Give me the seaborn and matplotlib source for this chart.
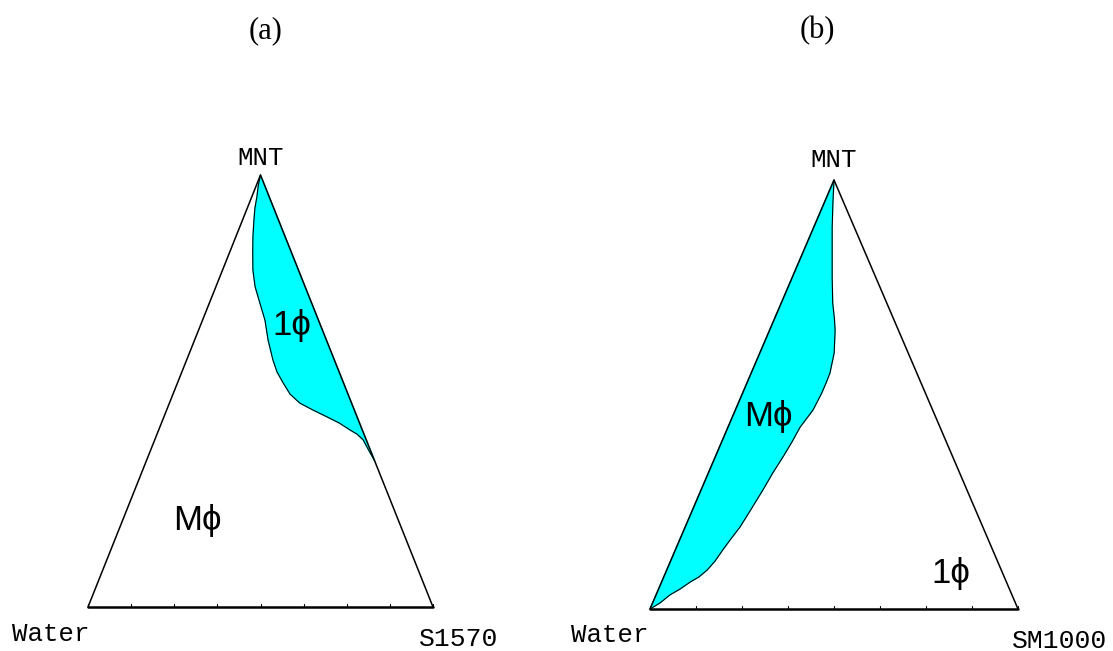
import numpy as np
import pandas as pd
import matplotlib
matplotlib.use("Agg")
import matplotlib.pyplot as plt
import seaborn as sns

# ---------------- data (ternary mass fractions) ----------------
# Panel (a): Water / S1570 / MNT ; boundary of the one-phase (1phi) region,
# from the S1570-MNT edge back up to the MNT corner
a_mnt  = [0.338, 0.363, 0.387, 0.400, 0.410, 0.426, 0.440, 0.456, 0.472, 0.493,
          0.519, 0.544, 0.572, 0.618, 0.664, 0.688, 0.741, 0.780, 0.819, 0.856,
          0.896, 0.924, 0.949, 0.975, 1.000]
a_poly = [0.662, 0.632, 0.604, 0.580, 0.554, 0.515, 0.473, 0.424, 0.378, 0.339,
          0.306, 0.276, 0.250, 0.213, 0.181, 0.160, 0.114, 0.088, 0.068, 0.050,
          0.033, 0.022, 0.015, 0.006, 0.000]

# Panel (b): Water / SM1000 / MNT ; boundary of the multi-phase (Mphi) region,
# from the Water corner up to the MNT corner
b_mnt  = [0.000, 0.014, 0.033, 0.047, 0.063, 0.075, 0.091, 0.112, 0.138, 0.163,
          0.191, 0.235, 0.277, 0.317, 0.354, 0.389, 0.424, 0.445, 0.464, 0.503,
          0.527, 0.550, 0.597, 0.650, 0.678, 0.713, 0.772, 0.830, 0.888, 0.946,
          1.000]
b_poly = [0.000, 0.020, 0.038, 0.059, 0.078, 0.096, 0.110, 0.121, 0.129, 0.138,
          0.149, 0.159, 0.168, 0.175, 0.184, 0.191, 0.196, 0.204, 0.211, 0.215,
          0.215, 0.214, 0.202, 0.178, 0.162, 0.140, 0.109, 0.080, 0.051, 0.024,
          0.000]

base_ticks = [0, 0.125, 0.25, 0.375, 0.5, 0.625, 0.75, 0.875, 1.0]

corner_labels_a = ["Water", "S1570", "MNT"]
corner_labels_b = ["Water", "SM1000", "MNT"]
panel_titles = ["(a)", "(b)"]
PHI = "\u03d5"


def tern(poly, mnt):
    poly = np.asarray(poly, float)
    mnt = np.asarray(mnt, float)
    return poly + 0.5 * mnt, mnt


sns.set_theme(style="white")
plt.rcParams["font.family"] = ["Liberation Sans", "DejaVu Sans"]
plt.rcParams["text.color"] = "black"

fig = plt.figure(figsize=(11.13, 6.51), dpi=100)
W, H = 1113.0, 651.0
ax_a = fig.add_axes([88 / W, 44 / H, 345 / W, 432 / H])
ax_b = fig.add_axes([650 / W, 42 / H, 368 / W, 429 / H])

mono = ["Liberation Mono", "DejaVu Sans Mono"]
phase_font = ["Liberation Sans", "DejaVu Sans"]
serif = ["Liberation Serif", "DejaVu Serif"]


def draw_frame(ax):
    ax.set_xlim(0, 1)
    ax.set_ylim(0, 1)
    ax.axis("off")
    tx, ty = tern([0, 1, 0], [0, 0, 1])
    ax.plot([tx[0], tx[2], tx[1]], [ty[0], ty[2], ty[1]], color="black", lw=1.1,
            clip_on=False, zorder=3)
    ax.plot([tx[0], tx[1]], [ty[0], ty[1]], color="black", lw=1.8,
            clip_on=False, zorder=3)
    for t in base_ticks:
        ax.plot([t, t], [0, 0.007], color="black", lw=0.8, clip_on=False, zorder=3)


def curve(ax, cx, cy):
    df = pd.DataFrame({"x": cx, "y": cy})
    sns.lineplot(data=df, x="x", y="y", sort=False, estimator=None, color="black",
                 lw=0.8, ax=ax, zorder=2, clip_on=False)
    ax.set_xlabel("")
    ax.set_ylabel("")


# ---- panel (a) ----
draw_frame(ax_a)
cx, cy = tern(a_poly, a_mnt)
px = np.concatenate([[0.5], cx])
py = np.concatenate([[1.0], cy])
ax_a.fill(px, py, color="#00FFFF", zorder=1, clip_on=False)
curve(ax_a, cx, cy)

ax_a.text(0.5, 1.012, corner_labels_a[2], ha="center", va="bottom",
          fontsize=18.5, family=mono)
ax_a.text(-0.220, -0.035, corner_labels_a[0], ha="left", va="top",
          fontsize=18.5, family=mono)
ax_a.text(0.960, -0.046, corner_labels_a[1], ha="left", va="top",
          fontsize=19, family=mono)
ax_a.text(0.591, 0.630, "1" + PHI, ha="center", va="baseline", fontsize=25,
          family=phase_font)
ax_a.text(0.316, 0.178, "M" + PHI, ha="center", va="baseline", fontsize=25,
          family=phase_font)

# ---- panel (b) ----
draw_frame(ax_b)
cx, cy = tern(b_poly, b_mnt)
px = np.concatenate([cx, [0.0]])
py = np.concatenate([cy, [0.0]])
ax_b.fill(px, py, color="#00FFFF", zorder=1, clip_on=False)
curve(ax_b, cx, cy)

ax_b.text(0.5, 1.019, corner_labels_b[2], ha="center", va="bottom",
          fontsize=18.5, family=mono)
ax_b.text(-0.215, -0.033, corner_labels_b[0], ha="left", va="top",
          fontsize=18.5, family=mono)
ax_b.text(0.984, -0.047, corner_labels_b[1], ha="left", va="top",
          fontsize=19, family=mono)
ax_b.text(0.321, 0.427, "M" + PHI, ha="center", va="baseline", fontsize=25,
          family=phase_font)
ax_b.text(0.818, 0.061, "1" + PHI, ha="center", va="baseline", fontsize=25,
          family=phase_font)

# panel titles
fig.text(266 / W, 1 - 31 / H, panel_titles[0], ha="center", va="center",
         fontsize=22, family=serif)
fig.text(817 / W, 1 - 31 / H, panel_titles[1], ha="center", va="center",
         fontsize=22, family=serif)

fig.savefig("out.png", dpi=100)
